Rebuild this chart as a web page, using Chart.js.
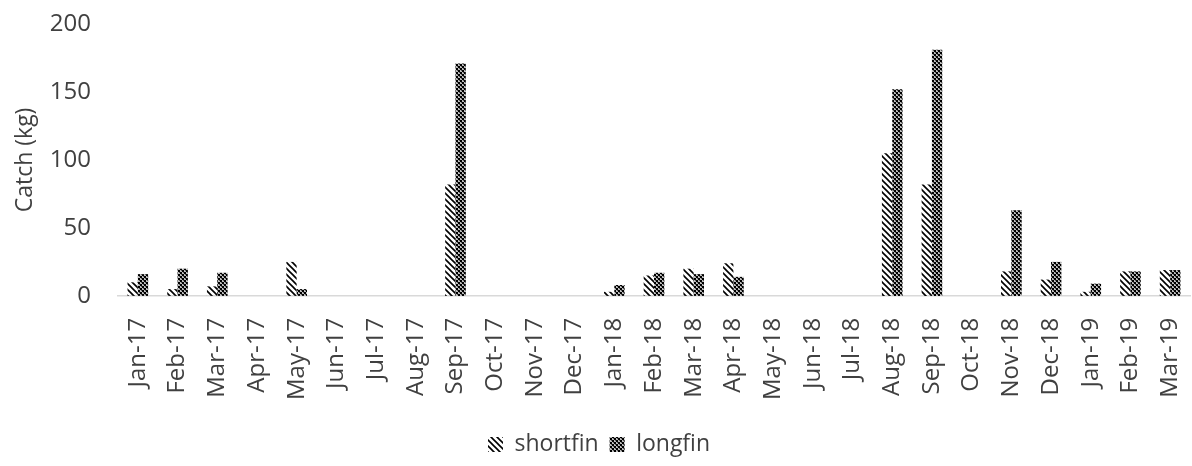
<!DOCTYPE html>
<html>
<head>
<meta charset="utf-8">
<script src="https://cdn.jsdelivr.net/npm/chart.js@4/dist/chart.umd.min.js"></script>
<style>
  html, body { margin:0; padding:0; background:#fff; }
  #wrap { width:1192px; height:466px; }
</style>
</head>
<body>
<div id="wrap"><canvas id="catchChart" width="1192" height="466"></canvas></div>
<script>
/* Monthly eel catch, shortfin vs longfin */
const months = ['Jan-17','Feb-17','Mar-17','Apr-17','May-17','Jun-17','Jul-17','Aug-17','Sep-17',
  'Oct-17','Nov-17','Dec-17','Jan-18','Feb-18','Mar-18','Apr-18','May-18','Jun-18','Jul-18',
  'Aug-18','Sep-18','Oct-18','Nov-18','Dec-18','Jan-19','Feb-19','Mar-19'];
const shortfin = [10, 5, 7, 0, 25, 0, 0, 0, 82, 0, 0, 0, 3, 15, 20, 24, 0, 0, 0, 105, 82, 0, 18, 12, 3, 18, 19];
const longfin  = [16, 20, 17, 0, 5, 0, 0, 0, 171, 0, 0, 0, 8, 17, 16, 14, 0, 0, 0, 152, 181, 0, 63, 25, 9, 18, 19];
const yTicks = [0, 50, 100, 150, 200];

const FONT = "'Open Sans', 'Liberation Sans', sans-serif";

// diagonal hatch ( \\\ ) for shortfin
function hatchPattern() {
  const c = document.createElement('canvas');
  c.width = 6; c.height = 6;
  const g = c.getContext('2d');
  g.strokeStyle = '#000';
  g.lineWidth = 1.6;
  g.beginPath();
  g.moveTo(-1, -1); g.lineTo(7, 7);
  g.moveTo(-1, 5); g.lineTo(1, 7);
  g.moveTo(5, -1); g.lineTo(7, 1);
  g.stroke();
  return g.createPattern(c, 'repeat');
}

// dark checker / diamond for longfin
function checkPattern() {
  const c = document.createElement('canvas');
  c.width = 4; c.height = 4;
  const g = c.getContext('2d');
  g.fillStyle = '#bdbdbd';
  g.fillRect(0, 0, 4, 4);
  g.fillStyle = '#000';
  g.fillRect(0, 0, 2, 2);
  g.fillRect(2, 2, 2, 2);
  g.fillStyle = '#555';
  g.fillRect(1, 2, 1, 1);
  g.fillRect(3, 0, 1, 1);
  return g.createPattern(c, 'repeat');
}

const chart = new Chart(document.getElementById('catchChart'), {
  type: 'bar',
  data: {
    labels: months,
    datasets: [
      { label: 'shortfin', data: shortfin, backgroundColor: hatchPattern(), borderWidth: 0 },
      { label: 'longfin', data: longfin, backgroundColor: checkPattern(), borderWidth: 0 }
    ]
  },
  options: {
    responsive: false,
    animation: false,
    layout: { padding: { left: 8, right: 2, top: 0, bottom: 0 } },
    datasets: { bar: { categoryPercentage: 0.52, barPercentage: 1.0 } },
    plugins: {
      tooltip: { enabled: false },
      legend: {
        position: 'bottom',
        labels: {
          font: { family: FONT, size: 23 }, color: '#404040',
          boxWidth: 15, boxHeight: 15, padding: 11
        }
      }
    },
    scales: {
      x: {
        afterFit: ax => { ax.paddingLeft = 0; ax.paddingRight = 0; },
        grid: { display: false, drawTicks: false },
        border: { display: true, color: '#d9d9d9', width: 1.5 },
        ticks: {
          font: { family: FONT, size: 24 }, color: '#404040',
          minRotation: 90, maxRotation: 90, autoSkip: false, padding: 22
        }
      },
      y: {
        min: 0, max: 200,
        afterBuildTicks: ax => { ax.ticks = yTicks.map(v => ({ value: v })); },
        afterFit: ax => { ax.width = 110; ax.paddingTop = 24; ax.paddingBottom = 0; },
        grid: { display: false, drawTicks: false },
        border: { display: false },
        ticks: { font: { family: FONT, size: 24 }, color: '#404040', padding: 27 },
        title: { display: true, text: 'Catch (kg)', font: { family: FONT, size: 23 }, color: '#404040', padding: { bottom: 0 } }
      }
    }
  }
});
</script>
</body>
</html>
